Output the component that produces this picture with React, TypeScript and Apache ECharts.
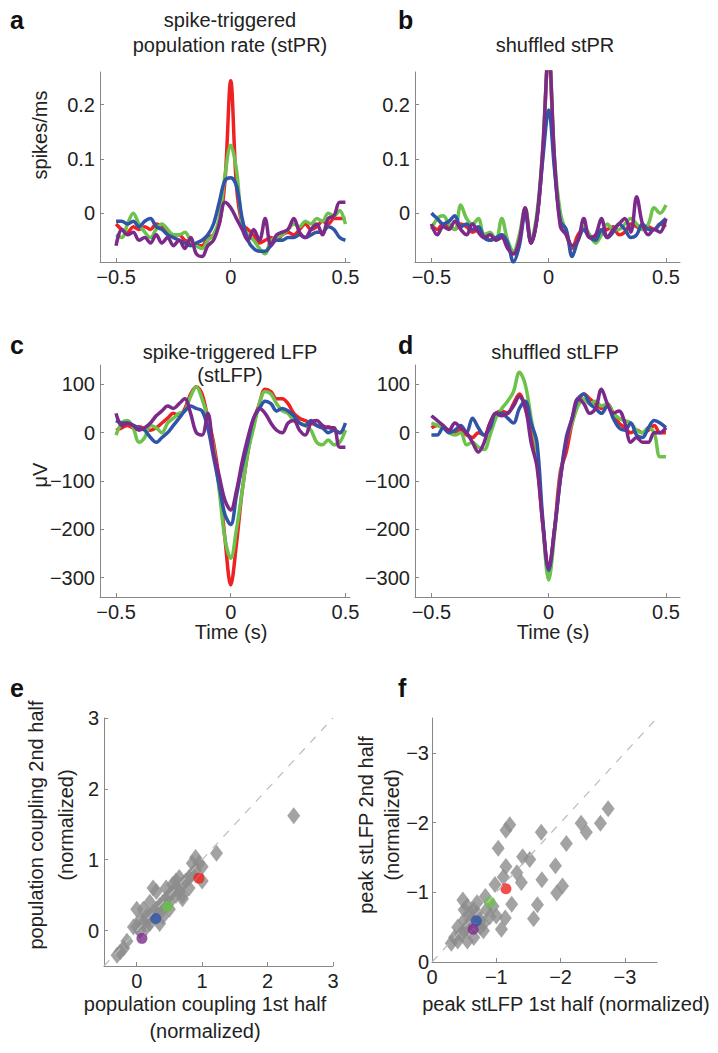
import { useEffect, useRef } from "react"
import * as echarts from "echarts"

// time axis shared by panels a-d (s)
const timeSteps = Array.from({ length: 41 }, (_, i) => Math.round((-0.5 + i * 0.025) * 1000) / 1000)

const prRed = [-0.02,-0.03,-0.035,-0.025,-0.03,-0.025,-0.03,-0.02,-0.025,-0.035,-0.04,-0.04,-0.05,-0.055,-0.06,-0.06,-0.045,-0.04,-0.02,0.06,0.244,0.05,-0.02,-0.03,-0.04,-0.055,-0.05,-0.045,-0.05,-0.04,-0.035,-0.04,-0.03,-0.02,-0.03,-0.025,-0.015,-0.02,-0.01,-0.01,-0.01]
const prGreen = [-0.04,-0.045,-0.02,0,-0.02,-0.035,-0.045,-0.03,-0.02,-0.03,-0.04,-0.04,-0.035,-0.05,-0.06,-0.065,-0.05,-0.04,-0.01,0.07,0.125,0.08,-0.02,-0.04,-0.05,-0.065,-0.075,-0.05,-0.045,-0.04,-0.03,-0.02,-0.025,-0.015,-0.02,-0.01,-0.015,0,-0.005,0.005,-0.02]
const prBlue = [-0.015,-0.015,-0.02,-0.015,-0.025,-0.015,-0.01,-0.025,-0.03,-0.04,-0.045,-0.05,-0.055,-0.06,-0.055,-0.05,-0.04,-0.02,0.02,0.06,0.065,0.05,-0.01,-0.05,-0.065,-0.07,-0.07,-0.06,-0.05,-0.05,-0.045,-0.045,-0.04,-0.045,-0.04,-0.035,-0.035,-0.025,-0.03,-0.045,-0.05]
const prPurple = [-0.06,-0.03,-0.04,-0.035,-0.05,-0.045,-0.055,-0.04,-0.055,-0.045,-0.06,-0.05,-0.065,-0.045,-0.075,-0.08,-0.06,-0.05,-0.02,0.02,0.01,-0.01,-0.03,-0.05,-0.03,-0.05,-0.01,-0.06,-0.04,-0.035,-0.03,-0.01,-0.035,-0.045,-0.03,-0.02,-0.04,-0.01,-0.005,0.02,0.02]

const shPrRed = [-0.02,-0.03,-0.02,-0.025,-0.03,-0.02,-0.025,-0.035,-0.03,-0.04,-0.05,-0.045,-0.04,-0.06,-0.075,-0.05,0.005,-0.055,-0.01,0.11,0.3,0.09,-0.01,-0.04,-0.065,-0.04,-0.03,-0.045,-0.045,-0.035,-0.03,-0.025,-0.04,-0.035,-0.02,-0.025,-0.03,-0.025,-0.03,-0.02,-0.025]
const shPrGreen = [-0.03,-0.01,-0.005,-0.02,-0.03,0.015,-0.01,-0.02,-0.01,-0.04,-0.035,-0.05,-0.01,-0.05,-0.07,-0.04,0.01,-0.05,0,0.12,0.3,0.1,0,-0.035,-0.06,-0.05,-0.025,-0.04,-0.055,-0.04,-0.02,-0.03,-0.03,-0.02,-0.01,-0.02,-0.03,-0.02,0.01,0,0.015]
const shPrBlue = [0,-0.01,-0.02,-0.015,-0.005,-0.025,-0.02,-0.03,-0.025,-0.045,-0.05,-0.045,-0.04,-0.055,-0.09,-0.06,0,-0.055,-0.01,0.1,0.19,0.08,-0.015,-0.03,-0.08,-0.05,-0.03,-0.045,-0.05,-0.03,-0.045,-0.035,-0.02,-0.03,-0.045,-0.04,-0.02,-0.03,-0.03,-0.02,-0.01]
const shPrPurple = [-0.02,-0.04,-0.025,-0.03,-0.015,-0.03,-0.04,-0.02,-0.035,-0.045,-0.04,-0.05,-0.045,-0.065,-0.075,-0.05,0.01,-0.055,-0.01,0.12,0.3,0.1,-0.025,-0.04,-0.06,-0.05,-0.01,-0.045,-0.04,-0.01,-0.045,-0.03,-0.02,-0.01,-0.035,0.03,-0.02,-0.04,-0.03,-0.035,-0.01]

const lfpRed = [5,10,15,10,12,8,5,10,20,30,40,35,50,80,95,80,30,-20,-100,-220,-315,-230,-120,-40,20,60,90,85,70,70,60,40,30,25,20,15,10,12,5,0,5]
const lfpGreen = [-5,20,25,10,-20,-10,15,10,0,20,30,40,45,75,95,70,30,-30,-120,-220,-260,-200,-120,-40,10,60,85,80,60,45,40,25,20,15,5,-20,-25,-15,-25,-20,5]
const lfpBlue = [25,20,20,15,10,5,-10,-20,-10,0,15,30,45,55,50,45,10,-50,-110,-170,-190,-130,-70,-20,30,50,65,60,45,50,45,35,20,15,25,15,10,0,5,0,20]
const lfpPurple = [40,15,20,15,5,10,20,35,45,55,50,60,70,40,0,-5,40,-40,-90,-140,-160,-120,-60,-10,30,50,40,20,5,0,20,25,5,-5,20,25,15,10,10,-30,-30]

const shLfpRed = [10,15,10,5,0,5,-5,-10,0,-5,20,40,45,40,60,80,50,0,-60,-190,-290,-200,-80,-40,20,60,80,70,60,50,60,40,20,10,0,5,0,5,15,0,0]
const shLfpGreen = [20,15,10,0,-5,0,-25,-20,-30,-35,-5,30,50,65,85,125,100,30,-40,-190,-305,-210,-90,-20,20,55,70,60,65,55,60,40,30,25,20,5,0,10,0,-50,-50]
const shLfpBlue = [-5,-5,10,0,5,15,0,30,10,-5,10,40,40,30,20,50,65,20,-20,-180,-285,-200,-95,-10,30,70,80,60,50,40,55,30,10,5,20,-5,-10,10,25,20,10]
const shLfpPurple = [35,25,15,5,20,10,0,-20,-40,-20,20,40,35,40,55,75,55,-20,-70,-190,-280,-200,-95,-20,30,70,60,40,50,90,60,40,45,20,-20,-10,-20,-20,0,0,10]

// panel e: population coupling, 1st half vs 2nd half
const couplingGrey = [[-0.3,-0.35],[-0.25,-0.3],[-0.2,-0.25],[-0.15,-0.15],[-0.05,0.05],[0,0.05],[0.05,0],[0.1,0.1],[0.15,0.05],[0.2,0.1],[0.2,0.2],[0.25,0.25],[0.3,0.2],[0.3,0.3],[0.35,0.35],[0.4,0.3],[0.4,0.4],[0.45,0.45],[0.5,0.4],[0.5,0.5],[0.55,0.55],[0.6,0.5],[0.6,0.6],[0.65,0.55],[0.7,0.65],[0.7,0.5],[0.75,0.7],[0.8,0.75],[0.85,0.8],[0.9,0.85],[0.95,0.95],[0.9,1.03],[1,0.7],[1,0.9],[1.22,1.09],[2.4,1.62],[0,0.3],[0.25,0.6],[0.3,0.55],[0.45,0.6],[0.55,0.65],[0.6,0.7],[0.65,0.75],[0.35,0.1],[0.15,0.2],[0.1,0.3],[0.4,0.2],[0.5,0.3],[0.7,0.45],[0.8,0.6],[0.85,0.95],[0.2,0.4],[0.05,0.15]]
const couplingHighlight = [[0.95,0.74],[0.47,0.34],[0.29,0.17],[0.08,-0.11]]

// panel f: peak stLFP, 1st half vs 2nd half
const peakGrey = [[-0.3,-0.27],[-0.35,-0.35],[-0.4,-0.3],[-0.45,-0.4],[-0.5,-0.45],[-0.4,-0.5],[-0.5,-0.6],[-0.55,-0.5],[-0.6,-0.6],[-0.6,-0.7],[-0.65,-0.75],[-0.7,-0.7],[-0.75,-0.6],[-0.75,-0.5],[-0.8,-0.45],[-0.5,-0.75],[-0.48,-0.89],[-0.55,-0.8],[-0.7,-0.85],[-0.83,-0.94],[-0.85,-0.75],[-0.9,-0.65],[-0.8,-0.55],[-0.95,-0.8],[-1,-0.66],[-1.08,-0.47],[-1.14,-0.63],[-1.24,-0.83],[-0.98,-1.11],[-1.11,-1.22],[-1.15,-1.37],[-1.32,-1.28],[-1.39,-1.14],[-1.41,-1.51],[-1.52,-1.47],[-1.03,-1.63],[-1.15,-1.89],[-1.21,-1.97],[-1.7,-1.86],[-2.09,-1.7],[-2.32,-1.99],[-2.4,-1.86],[-2.62,-1.99],[-2.74,-2.2],[-1.92,-1.38],[-1.71,-1.18],[-2.03,-1.09],[-1.94,-0.99],[-1.64,-0.82],[-1.58,-0.62],[-0.65,-0.35],[-0.55,-0.3]]
const peakHighlight = [[-1.15,-1.05],[-0.9,-0.86],[-0.69,-0.59],[-0.64,-0.47]]

const colors = ["#ee2222", "#6cc24a", "#2f55a8", "#7b2a8a"]
const FONT = "Liberation Sans"
const INK = "#222"
const AXIS = "#888"

const fmt = (v: number) => (v < 0 ? "\u2212" + Math.abs(v) : String(v))

function axis(min: number, max: number, ticks: number[], gridIndex: number, extra: object = {}) {
  return {
    type: "value", gridIndex, min, max,
    axisLine: { show: true, onZero: false, lineStyle: { color: AXIS, width: 1 } },
    axisTick: { show: true, inside: true, length: 4, customValues: ticks, lineStyle: { color: AXIS } },
    axisLabel: { customValues: ticks, formatter: fmt, color: INK, fontSize: 20, fontFamily: FONT, margin: 5 },
    splitLine: { show: false },
    ...extra,
  }
}

function lines(data: number[][], idx: number) {
  return data.map((vals, k) => ({
    type: "line", xAxisIndex: idx, yAxisIndex: idx, showSymbol: false, smooth: 0.35,
    clip: true,
    data: vals.map((v, i) => [timeSteps[i], v]),
    lineStyle: { color: colors[k], width: 3.5 },
  }))
}

function txt(text: string, x: number, y: number, size = 20, extra: object = {}) {
  return { type: "text", x, y, style: { text, fill: INK, font: `${size}px "${FONT}"`, textAlign: "center", textVerticalAlign: "middle" }, ...extra }
}
function letter(t: string, x: number, y: number) {
  return { type: "text", x, y, style: { text: t, fill: "#111", font: `bold 25px "${FONT}"`, textVerticalAlign: "middle" } }
}

export default function App() {
  const ref = useRef<HTMLDivElement>(null)
  useEffect(() => {
    if (!ref.current) return
    const chart = echarts.init(ref.current, null, { renderer: "svg" })
    const tTicks = [-0.5, 0, 0.5]
    chart.setOption({
      animation: false,
      grid: [
        { left: 100, top: 72, width: 250, height: 190 },
        { left: 415, top: 72, width: 265, height: 190 },
        { left: 100, top: 365, width: 250, height: 232 },
        { left: 415, top: 365, width: 265, height: 232 },
        { left: 104, top: 718, width: 229, height: 248 },
        { left: 432, top: 718, width: 225, height: 244 },
      ],
      xAxis: [
        axis(-0.57, 0.52, tTicks, 0),
        axis(-0.57, 0.56, tTicks, 1),
        axis(-0.57, 0.52, tTicks, 2),
        axis(-0.57, 0.56, tTicks, 3),
        axis(-0.5, 3, [0, 1, 2, 3], 4),
        axis(-3.5, 0, [0, -1, -2, -3], 5, { inverse: true }),
      ],
      yAxis: [
        axis(-0.09, 0.26, [0, 0.1, 0.2], 0),
        axis(-0.09, 0.26, [0, 0.1, 0.2], 1),
        axis(-340, 140, [-300, -200, -100, 0, 100], 2),
        axis(-340, 140, [-300, -200, -100, 0, 100], 3),
        axis(-0.5, 3, [0, 1, 2, 3], 4),
        axis(-3.5, 0, [0, -1, -2, -3], 5, { inverse: true, axisLabel: { customValues: [0, -1, -2, -3], formatter: fmt, color: INK, fontSize: 20, fontFamily: FONT, margin: 3 } }),
      ],
      series: [
        ...lines([prRed, prGreen, prBlue, prPurple], 0),
        ...lines([shPrRed, shPrGreen, shPrBlue, shPrPurple], 1),
        ...lines([lfpRed, lfpGreen, lfpBlue, lfpPurple], 2),
        ...lines([shLfpRed, shLfpGreen, shLfpBlue, shLfpPurple], 3),
        { type: "line", xAxisIndex: 4, yAxisIndex: 4, showSymbol: false, data: [[-0.5, -0.5], [3, 3]], lineStyle: { color: "#bbb", width: 1.2, type: [8, 8] } },
        { type: "scatter", xAxisIndex: 4, yAxisIndex: 4, symbol: "diamond", symbolSize: [13, 17], data: couplingGrey, itemStyle: { color: "#8c8c8c" } },
        { type: "scatter", xAxisIndex: 4, yAxisIndex: 4, symbolSize: 11, data: couplingHighlight.map((p, i) => ({ value: p, itemStyle: { color: colors[i] } })) },
        { type: "line", xAxisIndex: 5, yAxisIndex: 5, showSymbol: false, data: [[0, 0], [-3.5, -3.5]], lineStyle: { color: "#bbb", width: 1.2, type: [8, 8] } },
        { type: "scatter", xAxisIndex: 5, yAxisIndex: 5, symbol: "diamond", symbolSize: [13, 17], data: peakGrey, itemStyle: { color: "#8c8c8c" } },
        { type: "scatter", xAxisIndex: 5, yAxisIndex: 5, symbolSize: 11, data: peakHighlight.map((p, i) => ({ value: p, itemStyle: { color: colors[i] } })) },
      ],
      graphic: [
        letter("a", 10, 20), letter("b", 398, 20), letter("c", 10, 345), letter("d", 398, 345), letter("e", 10, 688), letter("f", 398, 688),
        txt("spike-triggered", 230, 20), txt("population rate (stPR)", 230, 45),
        txt("shuffled stPR", 555, 45),
        txt("spike-triggered LFP", 230, 352), txt("(stLFP)", 230, 375),
        txt("shuffled stLFP", 555, 352),
        txt("spikes/ms", 40, 135, 20, { rotation: Math.PI / 2 }),
        txt("\u03bcV", 40, 475, 20, { rotation: Math.PI / 2 }),
        txt("Time (s)", 231, 632), txt("Time (s)", 553, 632),
        txt("population coupling 2nd half", 36, 825, 20, { rotation: Math.PI / 2 }),
        txt("(normalized)", 66, 825, 20, { rotation: Math.PI / 2 }),
        txt("population coupling 1st half", 205, 1004), txt("(normalized)", 205, 1031),
        txt("peak stLFP 2nd half", 366, 825, 20, { rotation: Math.PI / 2 }),
        txt("(normalized)", 392, 825, 20, { rotation: Math.PI / 2 }),
        txt("peak stLFP 1st half (normalized)", 566, 1004),
      ],
    })
    return () => chart.dispose()
  }, [])
  return <div ref={ref} style={{ position: "absolute", left: 0, top: 0, width: 718, height: 1053, background: "#fff" }} />
}
